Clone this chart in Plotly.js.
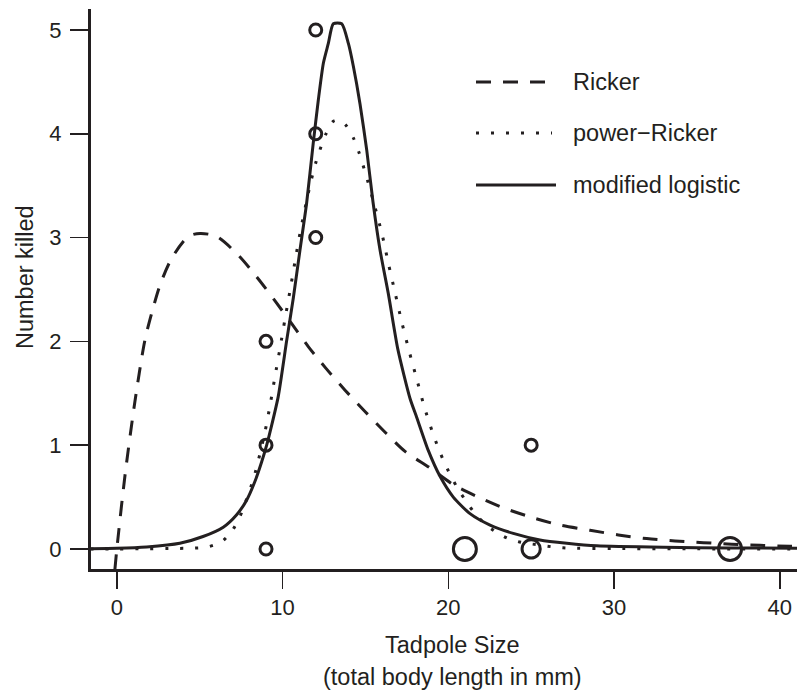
<!DOCTYPE html>
<html>
<head>
<meta charset="utf-8">
<script src="https://cdn.plot.ly/plotly-3.0.1.min.js"></script>
<style>
  html, body { margin: 0; padding: 0; background: #ffffff; }
  #chart { width: 797px; height: 690px; }
</style>
</head>
<body>
<div id="chart"></div>
<script>
// Observed kills by tadpole size; nObs = how many observations share a point
const obsSize   = [9, 9, 9, 12, 12, 12, 21, 25, 25, 37];
const obsKilled = [0, 1, 2, 3, 4, 5, 0, 0, 1, 0];
const nObs      = [1, 1, 1, 1, 1, 1, 3, 2, 1, 3];

// Fitted Ricker curve
const rickerX = [-0.12, 0, 0.5, 1.09, 1.69, 2.1, 2.6, 3.31, 4.31, 5.02, 6.02, 7.33, 8.44, 9.5,
                 10.55, 11.55, 12.62, 13.77, 15.0, 16.28, 17.39, 18.9, 20.3, 21.81, 23.42, 25.13,
                 26.74, 28.55, 30.26, 31.97, 33.68, 35.39, 37.1, 38.81, 40.6, 41.5];
const rickerY = [-0.2, 0, 0.72, 1.42, 2.01, 2.27, 2.54, 2.8, 3.01, 3.04, 3.01, 2.83, 2.62, 2.4,
                 2.17, 1.95, 1.74, 1.53, 1.32, 1.11, 0.94, 0.78, 0.62, 0.5, 0.39, 0.3,
                 0.23, 0.18, 0.135, 0.1, 0.077, 0.061, 0.045, 0.035, 0.026, 0.022];

// Fitted power-Ricker curve
const powRickerX = [-1.6, 0, 1.9, 3.5, 4.6, 5.48, 6.32, 6.93, 7.39, 7.69, 8.27, 8.9, 9.24, 9.54,
                    9.84, 10.14, 10.45, 10.75, 11.05, 11.61, 12.02, 12.62, 13.06, 13.45, 13.83,
                    14.27, 14.59, 15.11, 15.58, 16.02, 16.4, 16.8, 17.2, 17.63, 18.09, 18.55,
                    19.1, 19.74, 20.54, 21.03, 21.57, 22.15, 22.82, 23.62, 24.5, 25.43, 26.3,
                    27.1, 30, 35, 41.5];
const powRickerY = [0, 0, 0.002, 0.005, 0.008, 0.02, 0.07, 0.17, 0.3, 0.42, 0.69, 1.1, 1.38, 1.66,
                    1.93, 2.21, 2.49, 2.77, 3.04, 3.47, 3.73, 4.0, 4.12, 4.13, 4.08,
                    3.96, 3.83, 3.56, 3.29, 3.02, 2.74, 2.46, 2.18, 1.91, 1.64, 1.37,
                    1.1, 0.84, 0.59, 0.47, 0.35, 0.25, 0.17, 0.1, 0.06, 0.04, 0.02,
                    0.01, 0.004, 0.001, 0];

// Fitted modified logistic curve
const logisticX = [-1.6, 0, 1.8, 3.8, 5.2, 6.42, 7.23, 7.83, 8.33, 8.74, 9.04, 9.34, 9.74, 10.25,
                   10.65, 11.05, 11.45, 11.85, 12.16, 12.46, 12.76, 13.06, 13.57, 13.97, 14.27,
                   14.67, 15.08, 15.45, 15.88, 16.38, 16.96, 17.69, 18.09, 18.79, 19.5, 20.3,
                   21.31, 22.52, 23.92, 25.53, 27.15, 28.96, 33, 37, 41.5];
const logisticY = [0.003, 0.007, 0.02, 0.055, 0.12, 0.21, 0.33, 0.47, 0.65, 0.84, 1.0, 1.19, 1.47, 2.01,
                   2.42, 2.88, 3.33, 3.91, 4.33, 4.68, 4.87, 5.06, 5.06, 4.87, 4.65,
                   4.29, 3.84, 3.35, 2.88, 2.46, 1.92, 1.45, 1.27, 0.95, 0.7, 0.5,
                   0.34, 0.23, 0.15, 0.087, 0.055, 0.03, 0.016, 0.01, 0.007];

const xTicks = [0, 10, 20, 30, 40];
const yTicks = [0, 1, 2, 3, 4, 5];

const seriesNames = ['Ricker', 'power\u2212Ricker', 'modified logistic'];
const xTitleLines = ['Tadpole Size', '(total body length in mm)'];
const yTitle = 'Number killed';

// ---- styling ----
const INK = '#231f20';
const FONT = 'Liberation Sans, Arial, Helvetica, sans-serif';
const TEXT_SIZE = 23.5;
const W = 797, H = 690;
const M = { l: 91, r: 0, t: 9, b: 121 };
const plotW = W - M.l - M.r, plotH = H - M.t - M.b;
const px2paperX = px => (px - M.l) / plotW;
const py2paperY = py => 1 - (py - M.t) / plotH;

const dashStyle = '15px,12px';
const dotStyle = '3px,12px';
const circleLine = 3;

const traces = [
  { x: rickerX, y: rickerY, mode: 'lines', name: seriesNames[0],
    line: { color: INK, width: 3, dash: dashStyle, shape: 'spline', smoothing: 0.8 } },
  { x: powRickerX, y: powRickerY, mode: 'lines', name: seriesNames[1],
    line: { color: INK, width: 3, dash: dotStyle, shape: 'spline', smoothing: 0.8 } },
  { x: logisticX, y: logisticY, mode: 'lines', name: seriesNames[2],
    line: { color: INK, width: 3, shape: 'spline', smoothing: 0.6 } },
  { x: obsSize, y: obsKilled, mode: 'markers', name: 'observed',
    marker: { symbol: 'circle-open', color: INK, opacity: 1,
              size: nObs.map(n => 15 * Math.sqrt(n) - circleLine),
              line: { color: INK, width: circleLine } },
    cliponaxis: false }
];

// Legend drawn as line segments plus labels
const legendRows = [
  { py: 82, x1: 476, x2: 547, dash: dashStyle },
  { py: 133, x1: 476, x2: 552, dash: dotStyle },
  { py: 185, x1: 476, x2: 556, dash: 'solid' }
];
const shapes = legendRows.map(r => ({
  type: 'line', xref: 'paper', yref: 'paper',
  x0: px2paperX(r.x1), x1: px2paperX(r.x2),
  y0: py2paperY(r.py), y1: py2paperY(r.py),
  line: { color: INK, width: 3, dash: r.dash }
}));

const annotations = legendRows.map((r, i) => ({
  xref: 'paper', yref: 'paper', x: px2paperX(571), y: py2paperY(r.py),
  xanchor: 'left', yanchor: 'middle', showarrow: false,
  text: seriesNames[i], font: { family: FONT, size: TEXT_SIZE, color: INK }
}));

annotations.push(
  { xref: 'paper', yref: 'paper', x: px2paperX(453), y: py2paperY(645),
    xanchor: 'center', yanchor: 'middle', showarrow: false,
    text: xTitleLines[0], font: { family: FONT, size: TEXT_SIZE, color: INK } },
  { xref: 'paper', yref: 'paper', x: px2paperX(453), y: py2paperY(677),
    xanchor: 'center', yanchor: 'middle', showarrow: false,
    text: xTitleLines[1], font: { family: FONT, size: TEXT_SIZE, color: INK } },
  { xref: 'paper', yref: 'paper', x: px2paperX(25), y: py2paperY(277),
    xanchor: 'center', yanchor: 'middle', showarrow: false, textangle: -90,
    text: yTitle, font: { family: FONT, size: TEXT_SIZE, color: INK } }
);

const axisCommon = {
  showline: true, linecolor: INK, linewidth: 3,
  ticks: 'outside', tickcolor: INK, tickwidth: 1.6,
  showgrid: false, zeroline: false, mirror: false,
  tickfont: { family: FONT, size: 22, color: INK },
  fixedrange: true
};

const layout = {
  width: W, height: H,
  margin: { l: M.l, r: M.r, t: M.t, b: M.b, pad: 0 },
  paper_bgcolor: '#ffffff', plot_bgcolor: '#ffffff',
  showlegend: false,
  xaxis: Object.assign({}, axisCommon, {
    range: [-1.56, 41.04], tickvals: xTicks, ticklen: 17, ticklabelstandoff: 0
  }),
  yaxis: Object.assign({}, axisCommon, {
    range: [-0.193, 5.202], tickvals: yTicks, ticklen: 18, ticklabelstandoff: 4
  }),
  shapes: shapes,
  annotations: annotations
};

Plotly.newPlot('chart', traces, layout, { displayModeBar: false, staticPlot: true }).then(gd => {
  // keep the circle outlines at full stroke weight
  gd.querySelectorAll('.scatterlayer .trace:last-child path.point').forEach(p => {
    p.style.strokeWidth = circleLine + 'px';
    p.style.strokeOpacity = 1;
    p.style.stroke = INK;
  });
});
</script>
</body>
</html>
